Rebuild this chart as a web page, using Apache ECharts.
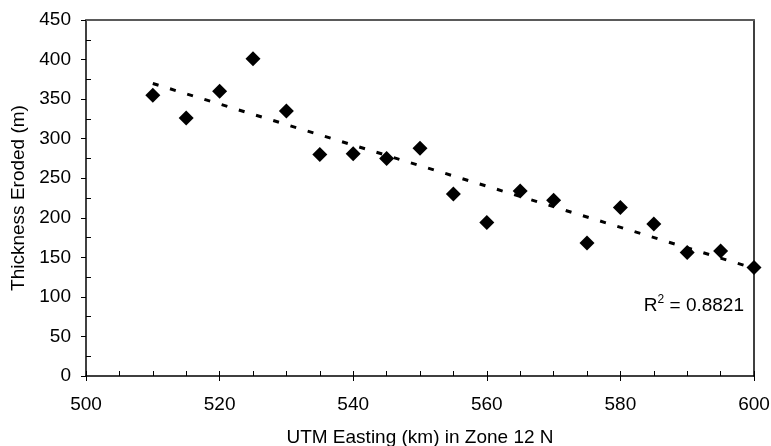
<!DOCTYPE html>
<html>
<head>
<meta charset="utf-8">
<script src="https://cdn.jsdelivr.net/npm/echarts@6/dist/echarts.min.js"></script>
<style>html,body{margin:0;padding:0;background:#fff;}#c{width:771px;height:446px;}</style>
</head>
<body>
<div id="c"></div>
<script>
var eastingKm = [510, 515, 520, 525, 530, 535, 540, 545, 550, 555, 560, 565, 570, 575, 580, 585, 590, 595, 600];
var thicknessM = [355, 326, 360, 401, 335, 280, 281, 275, 288, 230, 194, 234, 222, 168, 213, 192, 156, 158, 137];
var rSquaredLabel = '0.8821';
var xTitle = 'UTM Easting (km) in Zone 12 N';
var yTitle = 'Thickness Eroded (m)';

// least-squares linear trend derived from the data
var n = eastingKm.length, sx = 0, sy = 0, sxx = 0, sxy = 0;
for (var i = 0; i < n; i++) { sx += eastingKm[i]; sy += thicknessM[i]; sxx += eastingKm[i]*eastingKm[i]; sxy += eastingKm[i]*thicknessM[i]; }
var slope = (n*sxy - sx*sy) / (n*sxx - sx*sx);
var icpt = (sy - slope*sx) / n;
var x0 = eastingKm[0], x1 = eastingKm[n-1];
var trend = [[x0, icpt + slope*x0], [x1, icpt + slope*x1]];

var font = 'Liberation Sans, Arial, sans-serif';
var FS = 19;
var chart = echarts.init(document.getElementById('c'));
chart.setOption({
  animation: false,
  backgroundColor: '#fff',
  grid: { left: 86, right: 17, top: 20, bottom: 70, containLabel: false, outerBoundsMode: 'none' },
  xAxis: [
    { type: 'value', min: 500, max: 600, interval: 20, position: 'bottom',
      name: xTitle, nameLocation: 'middle', nameGap: 52,
      nameTextStyle: { fontFamily: font, fontSize: FS, color: '#000' },
      axisLine: { show: true, onZero: false, lineStyle: { color: '#000', width: 1.5 } },
      axisTick: { show: true, length: 5, lineStyle: { color: '#000', width: 1 } },
      axisLabel: { fontFamily: font, fontSize: FS, color: '#000', margin: 19 },
      splitLine: { show: false } },
    { type: 'value', min: 500, max: 600, interval: 20, position: 'bottom',
      axisLine: { show: false, onZero: false },
      axisTick: { show: true, inside: true, length: 5, lineStyle: { color: '#000', width: 1 } },
      minorTick: { show: true, splitNumber: 4, length: 5, lineStyle: { color: '#000', width: 1 } },
      axisLabel: { show: false }, splitLine: { show: false } },
    { type: 'value', min: 500, max: 600, position: 'top',
      axisLine: { show: true, onZero: false, lineStyle: { color: '#5a5a5a', width: 2 } },
      axisTick: { show: false }, axisLabel: { show: false }, splitLine: { show: false } }
  ],
  yAxis: [
    { type: 'value', min: 0, max: 450, interval: 50, position: 'left',
      name: yTitle, nameLocation: 'middle', nameGap: 57, nameRotate: 90,
      nameTextStyle: { fontFamily: font, fontSize: FS, color: '#000' },
      axisLine: { show: true, onZero: false, lineStyle: { color: '#000', width: 1.5 } },
      axisTick: { show: true, length: 5, lineStyle: { color: '#000', width: 1 } },
      axisLabel: { fontFamily: font, fontSize: FS, color: '#000', margin: 15 },
      splitLine: { show: false } },
    { type: 'value', min: 0, max: 450, interval: 50, position: 'left',
      axisLine: { show: false, onZero: false },
      axisTick: { show: false, inside: true, length: 5 },
      minorTick: { show: true, splitNumber: 2, length: 5, lineStyle: { color: '#000', width: 1 } },
      axisLabel: { show: false }, splitLine: { show: false } },
    { type: 'value', min: 0, max: 450, position: 'right',
      axisLine: { show: true, onZero: false, lineStyle: { color: '#000', width: 1.5 } },
      axisTick: { show: false }, axisLabel: { show: false }, splitLine: { show: false } }
  ],
  series: [
    { type: 'line', xAxisIndex: 0, yAxisIndex: 0, data: trend, symbol: 'none', silent: true,
      lineStyle: { color: '#000', width: 3, type: [6, 12] }, z: 2 },
    { type: 'scatter', xAxisIndex: 0, yAxisIndex: 0,
      data: eastingKm.map(function (x, i) { return [x, thicknessM[i]]; }),
      symbol: 'diamond', symbolSize: 15, itemStyle: { color: '#000', opacity: 1 }, z: 3 }
  ],
  graphic: [
    { type: 'text', right: 27, top: 294,
      style: { text: '{r|R}{s|2}{r| = ' + rSquaredLabel + '}',
        rich: { r: { fontFamily: font, fontSize: FS, fill: '#000', verticalAlign: 'bottom' },
                s: { fontFamily: font, fontSize: 12, fill: '#000', verticalAlign: 'top', padding: [0, 0, 9, 0] } } } }
  ]
});
</script>
</body>
</html>
